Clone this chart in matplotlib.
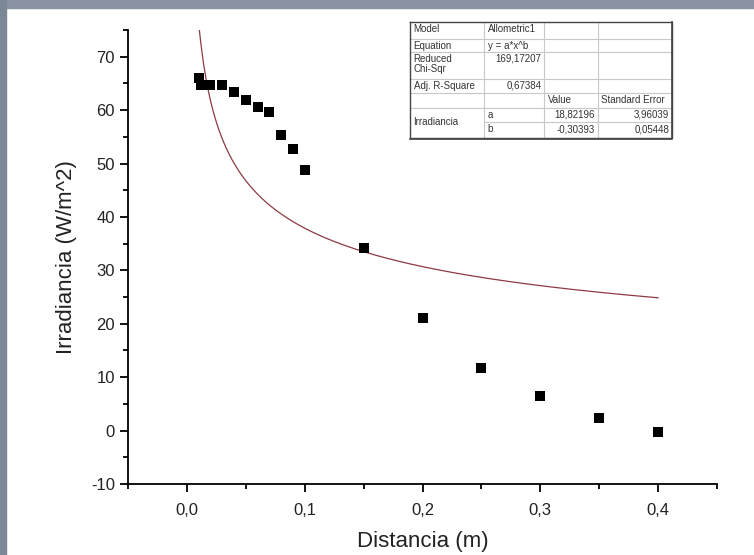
#!/usr/bin/env python
# irradiance vs distance with allometric fit (Origin style)

import numpy as np
import matplotlib.pyplot as plt
from matplotlib.ticker import MultipleLocator, FuncFormatter
from matplotlib.patches import Rectangle

plt.rcParams['font.family'] = ['Liberation Sans', 'DejaVu Sans']

# measured points
distancia = [0.01, 0.012, 0.02, 0.03, 0.04, 0.05, 0.06, 0.07, 0.08, 0.09, 0.10,
             0.15, 0.20, 0.25, 0.30, 0.35, 0.40]
irradiancia = [66.0, 64.7, 64.7, 64.7, 63.3, 61.9, 60.6, 59.7, 55.3, 52.7, 48.8,
               34.2, 21.0, 11.7, 6.4, 2.45, -0.2]

# fit parameters (Allometric1: y = a*x^b)
fit_a = 18.82196
fit_b = -0.30393

# fit report table
table_rows = [
    ['Model', 'Allometric1', '', ''],
    ['Equation', 'y = a*x^b', '', ''],
    ['Reduced\nChi-Sqr', '169,17207', '', ''],
    ['Adj. R-Square', '0,67384', '', ''],
    ['', '', 'Value', 'Standard Error'],
    ['Irradiancia', 'a', '18,82196', '3,96039'],
    ['', 'b', '-0,30393', '0,05448'],
]

W, H = 754, 555
fig = plt.figure(figsize=(W/100, H/100), dpi=100)
fig.patch.set_facecolor('white')

# screenshot border
fig.patches.append(Rectangle((0, 1 - 8/H), 1, 8/H, transform=fig.transFigure,
                             color='#8a93a2', zorder=0))
fig.patches.append(Rectangle((0, 0), 6/W, 1, transform=fig.transFigure,
                             color='#7c8796', zorder=0))

ax = fig.add_axes([128/W, 1 - 484/H, (717-128)/W, (484-30)/H])
ax.set_facecolor('none')

xfit = np.linspace(min(distancia), max(distancia), 400)
ax.plot(xfit, fit_a * xfit**fit_b, color='#8e3a44', lw=0.9)
ax.plot(distancia, irradiancia, 's', color='black', ms=7.5, mew=0)

ax.set_xlim(-0.05, 0.45)
ax.set_ylim(-10, 75)
ax.xaxis.set_major_locator(MultipleLocator(0.1))
ax.xaxis.set_minor_locator(MultipleLocator(0.05))
ax.yaxis.set_major_locator(MultipleLocator(10))
ax.yaxis.set_minor_locator(MultipleLocator(5))
ax.set_xticks([0.0, 0.1, 0.2, 0.3, 0.4])
ax.xaxis.set_major_formatter(FuncFormatter(lambda v, p: ('%.1f' % v).replace('.', ',')))
ax.yaxis.set_major_formatter(FuncFormatter(lambda v, p: '%d' % round(v)))

for s in ['top', 'right']:
    ax.spines[s].set_visible(False)
for s in ['left', 'bottom']:
    ax.spines[s].set_linewidth(1.3)
ax.tick_params(which='major', direction='out', length=6, width=1.3,
               labelsize=12, colors='black', labelcolor='#222222')
ax.tick_params(which='minor', direction='out', length=3.5, width=1.3)
ax.tick_params(axis='x', pad=8)

ax.set_xlabel('Distancia (m)', fontsize=16, color='#222222', labelpad=9)
ax.set_ylabel('Irradiancia (W/m^2)', fontsize=16, color='#222222', labelpad=10)

# table overlay in pixel coordinates
ov = fig.add_axes([0, 0, 1, 1])
ov.set_xlim(0, W)
ov.set_ylim(H, 0)
ov.axis('off')

cols = [410, 484.3, 544.3, 597.7, 672.3]
rows = [22.3, 39, 51.7, 79, 93.3, 107.7, 122.3, 137.7]
ov.add_patch(Rectangle((cols[0], rows[0]), cols[-1]-cols[0], rows[-1]-rows[0],
                       facecolor='white', edgecolor='none', zorder=2))
grid = '#c8c8c8'
for i, y in enumerate(rows[1:-1], start=1):
    x0 = cols[1] if i == 6 else cols[0]
    ov.plot([x0, cols[-1]], [y, y], color=grid, lw=0.8, zorder=3)
for x in cols[1:-1]:
    ov.plot([x, x], [rows[0], rows[-1]], color=grid, lw=0.8, zorder=3)
ov.plot([cols[0], cols[-1], cols[-1], cols[0], cols[0]],
        [rows[0], rows[0], rows[-1], rows[-1], rows[0]], color='#444444', lw=1.0, zorder=4)
ov.plot([cols[0], cols[-1], cols[-1]], [rows[-1]+0.8, rows[-1]+0.8, rows[0]],
        color='#444444', lw=1.2, zorder=4)

tc = '#333333'
for r, row in enumerate(table_rows):
    for c, txt in enumerate(row):
        if not txt:
            continue
        ytop = rows[r] + 2
        if r == 5 and c == 0:
            ov.text(cols[0] + 3.5, rows[6], txt, fontsize=7, color=tc,
                    ha='left', va='center', zorder=5)
            continue
        right_al = (c == 1 and r in (2, 3)) or (c >= 2 and r >= 5)
        if right_al:
            ov.text(cols[c+1] - 3, ytop, txt, fontsize=7, color=tc,
                    ha='right', va='top', zorder=5, linespacing=1.0)
        else:
            ov.text(cols[c] + 3.5, ytop, txt, fontsize=7, color=tc,
                    ha='left', va='top', zorder=5, linespacing=1.0)

fig.savefig('out.png', dpi=100, facecolor='white')
